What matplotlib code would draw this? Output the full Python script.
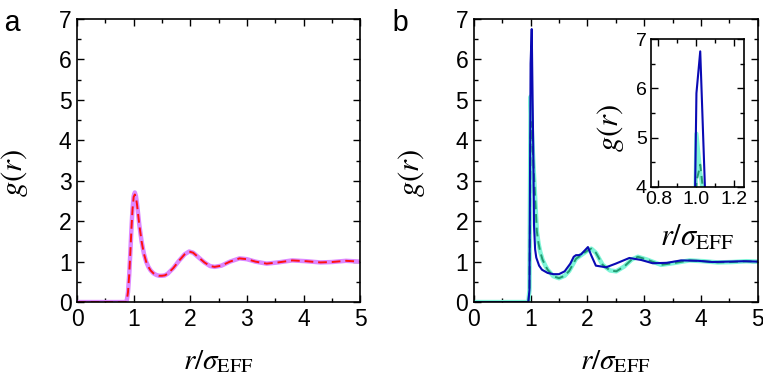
import numpy as np
import matplotlib
matplotlib.use("Agg")
import matplotlib.pyplot as plt
from matplotlib.ticker import MultipleLocator

plt.rcParams['font.family'] = ['Liberation Sans', 'DejaVu Sans']
plt.rcParams['mathtext.fontset'] = 'stix'

# panel a: two overlapping g(r) curves
r_a = [0.0, 0.86, 0.88, 0.90, 0.92, 0.94, 0.96, 0.98, 1.00, 1.02, 1.04, 1.06, 1.08, 1.10,
       1.14, 1.18, 1.22, 1.26, 1.30, 1.35, 1.40, 1.45, 1.50, 1.55, 1.60, 1.70, 1.80,
       1.90, 1.98, 2.05, 2.15, 2.25, 2.35, 2.43, 2.55, 2.70, 2.87, 3.00, 3.15, 3.35,
       3.55, 3.80, 4.05, 4.30, 4.50, 4.75, 5.00]
g_a_violet = [0.0, 0.0, 0.05, 0.25, 0.65, 1.20, 1.80, 2.32, 2.62, 2.71, 2.62, 2.42, 2.16, 1.90,
              1.50, 1.20, 1.00, 0.87, 0.78, 0.71, 0.67, 0.65, 0.65, 0.66, 0.70, 0.84, 1.02,
              1.18, 1.25, 1.22, 1.10, 0.98, 0.89, 0.87, 0.90, 1.00, 1.08, 1.06, 1.00, 0.95,
              0.98, 1.03, 1.01, 0.98, 0.99, 1.02, 1.00]
g_a_red = [0.0, 0.0, 0.05, 0.25, 0.65, 1.20, 1.80, 2.30, 2.60, 2.66, 2.59, 2.40, 2.15, 1.90,
           1.50, 1.20, 1.00, 0.87, 0.78, 0.71, 0.67, 0.65, 0.65, 0.66, 0.70, 0.84, 1.02,
           1.18, 1.25, 1.22, 1.10, 0.98, 0.89, 0.87, 0.90, 1.00, 1.08, 1.06, 1.00, 0.95,
           0.98, 1.03, 1.01, 0.98, 0.99, 1.02, 1.00]

# panel b: blue curve
r_blue = [0.0, 0.96, 0.98, 1.00, 1.02, 1.05, 1.06, 1.08, 1.10, 1.15, 1.20, 1.30, 1.40,
          1.50, 1.60, 1.70, 1.76, 1.80, 1.85, 1.89, 1.95, 2.01, 2.07, 2.15, 2.33, 2.50,
          2.74, 2.95, 3.15, 3.40, 3.65, 3.95, 4.20, 4.50, 4.75, 5.00]
g_blue = [0.0, 0.0, 0.3, 5.90, 6.75, 3.40, 1.90, 1.30, 1.10, 0.90, 0.80, 0.72, 0.69,
          0.69, 0.76, 0.95, 1.12, 1.16, 1.16, 1.18, 1.27, 1.36, 1.15, 0.90, 0.86, 0.95,
          1.09, 1.04, 0.96, 0.97, 1.03, 1.02, 0.99, 1.00, 1.01, 1.00]

# panel b: cyan and dashed green curves
r_c = [0.0, 0.96, 0.98, 1.00, 1.02, 1.05, 1.08, 1.11, 1.14, 1.17, 1.21, 1.26, 1.30,
       1.40, 1.50, 1.60, 1.68, 1.80, 1.90, 2.00, 2.07, 2.15, 2.27, 2.40, 2.51, 2.65,
       2.78, 2.89, 3.05, 3.30, 3.55, 3.80, 4.05, 4.30, 4.55, 4.80, 5.00]
g_cyan = [0.0, 0.0, 0.3, 5.08, 4.30, 3.40, 2.60, 1.75, 1.45, 1.24, 1.05, 0.90, 0.80,
          0.64, 0.59, 0.65, 0.77, 1.07, 1.17, 1.27, 1.32, 1.22, 0.92, 0.78, 0.76, 0.88,
          1.05, 1.12, 1.05, 0.92, 0.97, 1.03, 1.01, 0.98, 0.99, 1.01, 1.00]
g_green = [0.0, 0.0, 0.3, 4.10, 4.45, 3.40, 2.60, 1.75, 1.45, 1.24, 1.05, 0.90, 0.80,
           0.64, 0.59, 0.65, 0.77, 1.07, 1.17, 1.27, 1.32, 1.22, 0.92, 0.78, 0.76, 0.88,
           1.05, 1.12, 1.05, 0.92, 0.97, 1.03, 1.01, 0.98, 0.99, 1.01, 1.00]

c_violet = '#dd88ff'
c_red = '#ff1010'
c_blue = '#0a0ab4'
c_cyan = '#7ff5d8'
c_green = '#229a70'

xlab = r'$r/\sigma_{\mathrm{EFF}}$'
ylab = r'$g(r)$'


def style_axes(ax, tick_size):
    ax.tick_params(which='both', direction='in', top=True, right=True,
                   width=1.0, labelsize=tick_size, pad=4)
    ax.tick_params(which='major', length=5)
    ax.tick_params(which='minor', length=3)
    for s in ax.spines.values():
        s.set_linewidth(1.2)


fig = plt.figure(figsize=(7.63, 3.79), dpi=100)

ax1 = fig.add_axes([0.101, 0.203, 0.371, 0.747])
ax1.plot(r_a, g_a_violet, color=c_violet, lw=3.2)
ax1.plot(r_a, g_a_red, color=c_red, lw=1.4, ls=(0, (4.5, 2.5)))
ax1.set_xlim(0, 5)
ax1.set_ylim(0, 7)
ax1.xaxis.set_major_locator(MultipleLocator(1))
ax1.xaxis.set_minor_locator(MultipleLocator(0.5))
ax1.yaxis.set_major_locator(MultipleLocator(1))
ax1.yaxis.set_minor_locator(MultipleLocator(0.5))
style_axes(ax1, 16.5)
ax1.set_xlabel(xlab, fontsize=21)
ax1.set_ylabel(ylab, fontsize=22)
ax1.xaxis.set_label_coords(0.5, -0.16)
ax1.yaxis.set_label_coords(-0.166, 0.456)
fig.text(0.004, 0.975, 'a', fontsize=21, va='top', family='Liberation Mono')

ax2 = fig.add_axes([0.621, 0.203, 0.372, 0.747])
ax2.plot(r_c, g_cyan, color=c_cyan, lw=3.2)
ax2.plot(r_c, g_green, color=c_green, lw=1.4, ls=(0, (4.5, 2.5)))
ax2.plot(r_blue, g_blue, color=c_blue, lw=1.5)
ax2.set_xlim(0, 5)
ax2.set_ylim(0, 7)
ax2.xaxis.set_major_locator(MultipleLocator(1))
ax2.xaxis.set_minor_locator(MultipleLocator(0.5))
ax2.yaxis.set_major_locator(MultipleLocator(1))
ax2.yaxis.set_minor_locator(MultipleLocator(0.5))
style_axes(ax2, 16.5)
ax2.set_xlabel(xlab, fontsize=21)
ax2.set_ylabel(ylab, fontsize=22)
ax2.xaxis.set_label_coords(0.5, -0.16)
ax2.yaxis.set_label_coords(-0.165, 0.456)
fig.text(0.513, 0.975, 'b', fontsize=21, va='top', family='Liberation Mono')

# inset
ax3 = fig.add_axes([0.853, 0.507, 0.122, 0.390])
ax3.plot(r_c, g_cyan, color=c_cyan, lw=3.0)
ax3.plot(r_c, g_green, color=c_green, lw=1.4, ls=(0, (4, 2.5)))
ax3.plot(r_blue, g_blue, color=c_blue, lw=1.5)
ax3.set_xlim(0.76, 1.25)
ax3.set_ylim(4, 7)
ax3.xaxis.set_major_locator(MultipleLocator(0.2))
ax3.xaxis.set_minor_locator(MultipleLocator(0.1))
ax3.yaxis.set_major_locator(MultipleLocator(1))
ax3.yaxis.set_minor_locator(MultipleLocator(0.5))
ax3.set_xticks([0.8, 1.0, 1.2])
ax3.set_xticklabels(['0.8', '1.0', '1.2'])
style_axes(ax3, 14)
ax3.tick_params(axis='x', pad=3)
ax3.tick_params(axis='y', pad=3)
ax3.set_xlabel(xlab, fontsize=22)
ax3.set_ylabel(ylab, fontsize=22)
ax3.xaxis.set_label_coords(0.5, -0.24)
ax3.yaxis.set_label_coords(-0.27, 0.4)

fig.savefig('out.png', dpi=100)
